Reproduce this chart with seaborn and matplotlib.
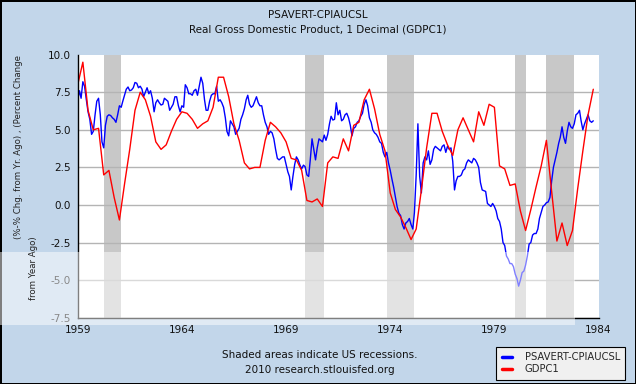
import numpy as np
import pandas as pd
import matplotlib
matplotlib.use("Agg")
import matplotlib.pyplot as plt
import matplotlib.patches as mpatches
import seaborn as sns

# PSAVERT-CPIAUCSL, monthly from Jan 1959
blue_vals = [
    7.0, 7.6, 7.1, 8.2, 7.9, 7.0, 6.2, 5.7, 4.7, 4.9, 6.0, 6.9,
    7.1, 6.0, 4.2, 3.8, 5.3, 5.9, 6.0, 5.95, 5.8, 5.7, 5.5, 6.0,
    6.6, 6.5, 6.9, 7.3, 7.7, 7.85, 7.6, 7.65, 7.8, 8.15, 8.1, 7.8,
    7.9, 7.7, 7.2, 7.5, 7.8, 7.4, 7.6, 7.1, 6.2, 6.8, 7.0, 6.8,
    6.65, 6.7, 7.1, 7.0, 6.9, 6.3, 6.5, 6.7, 7.2, 7.2, 6.6, 6.2,
    6.6, 6.5, 8.0, 7.8, 7.4, 7.4, 7.3, 7.6, 7.7, 7.3, 7.9, 8.5,
    8.1, 7.0, 6.3, 6.3, 6.9, 7.3, 7.4, 7.4, 7.9, 6.9, 7.0, 6.8,
    6.5, 5.8, 4.9, 4.6, 5.6, 5.4, 5.2, 4.7, 4.9, 5.1, 5.7, 6.0,
    6.4, 7.0, 7.3, 6.7, 6.5, 6.6, 6.9, 7.2, 6.8, 6.6, 6.6, 6.0,
    5.5, 5.2, 4.7, 4.9, 4.8, 4.4, 3.7, 3.1, 3.0, 3.1, 3.2, 3.2,
    2.7, 2.2, 1.9, 1.0, 1.9, 2.7, 3.2, 3.0, 2.65, 2.4, 2.65, 2.55,
    2.0, 1.9, 3.0, 4.4, 3.7, 3.0, 3.8, 4.4, 4.3, 4.2, 4.65, 4.3,
    4.7, 5.4, 5.9, 5.65, 5.7, 6.8, 6.0, 6.3, 5.6, 5.7, 6.0, 6.1,
    5.8, 5.3, 4.6, 5.1, 5.2, 5.5, 5.6, 5.9, 6.1, 6.7, 7.0, 6.6,
    5.8, 5.5, 5.0, 4.8, 4.7, 4.5, 4.2, 4.1, 3.5, 3.2, 3.5, 2.8,
    2.3, 1.7, 1.2, 0.55, -0.1, -0.55, -0.7, -1.3, -1.6, -1.2, -1.1, -0.9,
    -1.3, -1.6, -0.5, 2.0, 5.4, 1.9, 0.8, 2.8, 3.2, 3.0, 3.6, 2.7,
    3.0, 3.7, 3.9, 3.8, 3.7, 3.6, 3.9, 4.0, 3.5, 3.9, 3.7, 3.8,
    2.9, 1.0, 1.6, 1.9, 1.9, 2.0, 2.3, 2.4, 2.8, 3.0, 2.9, 2.8,
    3.1, 3.0, 2.8, 2.5, 1.5, 1.0, 0.95, 0.9, 0.1, 0.0, -0.1, 0.1,
    -0.1, -0.4, -0.9, -1.1, -1.6, -2.5, -2.7, -3.4, -3.6, -3.9, -3.9, -4.1,
    -4.6, -4.9, -5.4, -5.0, -4.5, -4.4, -4.0, -3.4, -2.6, -2.5, -2.0, -1.9,
    -1.9, -1.6, -0.9, -0.5, -0.1, 0.0, 0.15, 0.2, 0.5, 1.6, 2.5, 3.0,
    3.5, 4.1, 4.5, 5.2, 4.5, 4.1, 4.9, 5.5, 5.2, 5.1, 5.4, 6.0,
    6.1, 6.3, 5.6, 5.0, 5.4, 5.7, 6.0, 5.6, 5.5, 5.6,
]

# GDPC1 % change from year ago, quarterly from 1959Q1
red_vals = [
    8.0, 9.5, 6.3, 5.0,
    5.1, 2.0, 2.3, 0.5,
    -1.0, 1.4, 3.7, 6.3,
    7.5, 7.0, 5.9, 4.2,
    3.7, 4.0, 4.9, 5.7,
    6.2, 6.1, 5.7, 5.1,
    5.4, 5.6, 6.5, 8.5,
    8.5, 7.2, 5.4, 4.3,
    2.8, 2.4, 2.5, 2.5,
    4.3, 5.5, 5.2, 4.8,
    4.2, 3.1, 3.0, 2.3,
    0.3, 0.2, 0.4, -0.1,
    2.8, 3.2, 3.1, 4.4,
    3.6, 5.3, 5.5, 7.0,
    7.7, 6.4, 4.7, 3.6,
    0.8, -0.3, -0.8, -1.5,
    -2.3, -1.6, 1.0, 3.8,
    6.1, 6.1, 4.9, 4.0,
    3.3, 5.0, 5.8, 5.0,
    4.2, 6.2, 5.3, 6.7,
    6.5, 2.6, 2.4, 1.3,
    1.4, -0.4, -1.7, -0.3,
    1.2, 2.6, 4.3, 0.9,
    -2.4, -1.2, -2.7, -1.7,
    1.1, 3.6, 6.0, 7.7,
]

recessions = [
    ("1960-04-01", "1961-02-01"),
    ("1969-12-01", "1970-11-01"),
    ("1973-11-01", "1975-03-01"),
    ("1980-01-01", "1980-07-01"),
    ("1981-07-01", "1982-11-01"),
]
x_tick_years = [1959, 1964, 1969, 1974, 1979, 1984]
y_ticks = [-7.5, -5.0, -2.5, 0.0, 2.5, 5.0, 7.5, 10.0]

df_blue = pd.DataFrame({"date": pd.date_range("1959-01-01", periods=len(blue_vals), freq="MS"),
                        "value": blue_vals})
df_red = pd.DataFrame({"date": pd.date_range("1959-01-01", periods=len(red_vals), freq="QS"),
                       "value": red_vals})

sns.set_style("white")
plt.rcParams["font.family"] = ["DejaVu Sans"]

fig = plt.figure(figsize=(6.36, 3.84), dpi=100)
fig.patch.set_facecolor("#c2d6ea")
fig.patch.set_edgecolor("black")
fig.patch.set_linewidth(2)

ax = fig.add_axes([0.1222, 0.1727, 0.8189, 0.6849])
ax.set_facecolor("white")

for a, b in recessions:
    ax.axvspan(pd.Timestamp(a), pd.Timestamp(b), color="#c8c8c8", lw=0, zorder=0)

sns.lineplot(data=df_blue, x="date", y="value", color="#0000ff", lw=1, ax=ax,
             label="PSAVERT-CPIAUCSL")
sns.lineplot(data=df_red, x="date", y="value", color="#ff0000", lw=1, ax=ax,
             label="GDPC1")

ax.set_xlim(pd.Timestamp("1959-01-01"), pd.Timestamp("1984-01-01"))
ax.set_ylim(-7.5, 10)
ax.set_xticks([pd.Timestamp(f"{y}-01-01") for y in x_tick_years])
ax.set_xticklabels([str(y) for y in x_tick_years])
ax.set_yticks(y_ticks)
ax.set_yticklabels([f"{v:.1f}" for v in y_ticks])
ax.set_xlabel("")
ax.set_ylabel("")

ax.yaxis.grid(True, color="#b4b4b4", lw=1)
ax.xaxis.grid(False)
ax.set_axisbelow(True)
ax.get_ygridlines()[-1].set_visible(False)
for s in ["top", "right"]:
    ax.spines[s].set_visible(False)
for s in ["left", "bottom"]:
    ax.spines[s].set_color("black")
    ax.spines[s].set_linewidth(1)
ax.tick_params(axis="both", direction="in", length=5, width=1, color="black",
               labelsize=7.5, labelcolor="#111111")
ax.tick_params(axis="y", pad=5)
ax.tick_params(axis="x", pad=5)

ax.get_legend().remove()
leg = fig.legend(loc="lower left", bbox_to_anchor=(496 / 636, 1 - 380 / 384),
                 bbox_transform=fig.transFigure, fontsize=7.2, frameon=True,
                 fancybox=False, edgecolor="black", facecolor="#f0f0f0", framealpha=1,
                 handlelength=1.0, handletextpad=1.3, borderpad=0.55, labelspacing=0.25,
                 borderaxespad=0)
leg.get_frame().set_linewidth(0.8)
for line in leg.get_lines():
    line.set_linewidth(2.5)

fig.text(0.5, 1 - 15 / 384, "PSAVERT-CPIAUCSL", ha="center", va="center", fontsize=7.5,
         color="#111111")
fig.text(0.5, 1 - 29 / 384, "Real Gross Domestic Product, 1 Decimal (GDPC1)", ha="center",
         va="center", fontsize=7.5, color="#111111")
fig.text(19 / 636, 1 - 147.5 / 384, "(%-% Chg. from Yr. Ago) , (Percent Change",
         rotation=90, ha="center", va="center", fontsize=6.2, color="#222222")
fig.text(34 / 636, 1 - 268.5 / 384, "from Year Ago)", rotation=90, ha="center",
         va="center", fontsize=6.2, color="#222222")
fig.text(320 / 636, 1 - 355 / 384, "Shaded areas indicate US recessions.", ha="center",
         va="center", fontsize=7.5, color="#111111")
fig.text(320 / 636, 1 - 370 / 384, "2010 research.stlouisfed.org", ha="center",
         va="center", fontsize=7.5, color="#111111")

# pale band over the lower part of the image
fig.add_artist(mpatches.Rectangle((0, 1 - 325 / 384), 575 / 636, 73 / 384,
                                  transform=fig.transFigure, facecolor="white",
                                  alpha=0.5, lw=0))

fig.savefig("out.png", dpi=100, facecolor=fig.get_facecolor(), edgecolor=fig.get_edgecolor())
